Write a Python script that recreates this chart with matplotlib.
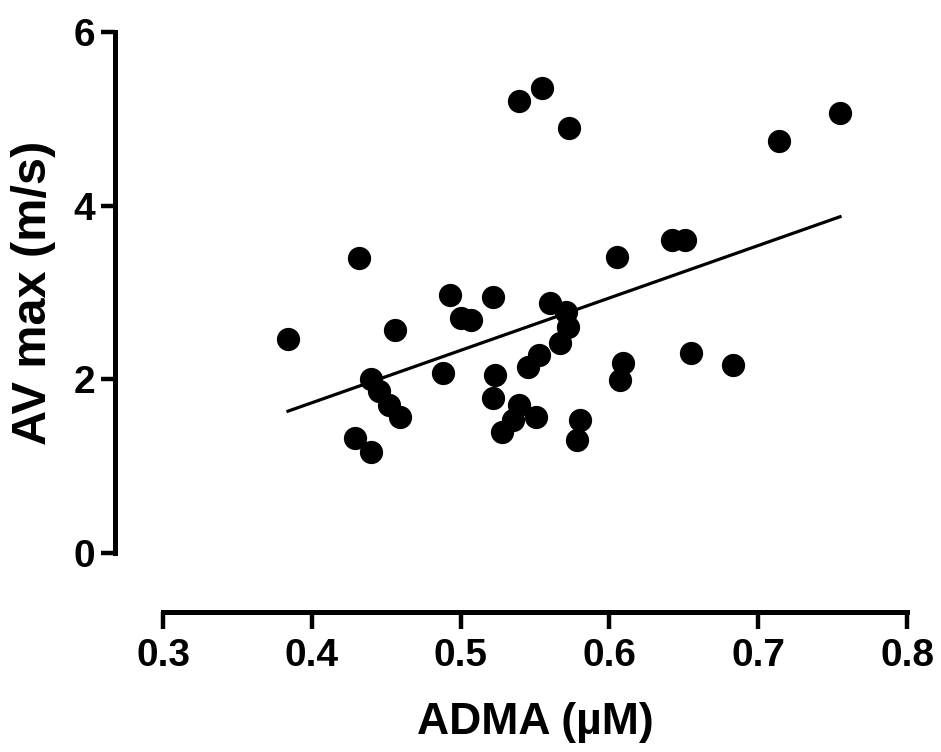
import matplotlib
matplotlib.use("Agg")
import matplotlib.pyplot as plt
import numpy as np

# ADMA (uM) vs AV max (m/s)
adma = [0.384, 0.432, 0.456, 0.429, 0.440,
        0.440, 0.445, 0.452, 0.459,
        0.488, 0.493, 0.500, 0.507,
        0.522, 0.523, 0.522,
        0.539, 0.535, 0.528, 0.551,
        0.539, 0.555, 0.573,
        0.560, 0.571, 0.572, 0.567, 0.553, 0.545,
        0.580, 0.578,
        0.605, 0.642, 0.651, 0.609, 0.607, 0.655,
        0.683, 0.714, 0.755]
av_max = [2.47, 3.40, 2.57, 1.32, 1.16,
          2.00, 1.86, 1.71, 1.57,
          2.07, 2.97, 2.71, 2.68,
          2.95, 2.05, 1.78,
          1.71, 1.53, 1.39, 1.57,
          5.21, 5.35, 4.90,
          2.88, 2.78, 2.60, 2.42, 2.28, 2.14,
          1.53, 1.30,
          3.41, 3.61, 3.61, 2.19, 1.99, 2.30,
          2.17, 4.75, 5.07]

x_ticks = [0.3, 0.4, 0.5, 0.6, 0.7, 0.8]
y_ticks = [0, 2, 4, 6]

plt.rcParams['font.family'] = ['Liberation Sans', 'DejaVu Sans']
plt.rcParams['font.weight'] = 'bold'

fig = plt.figure(figsize=(9.41, 7.52), dpi=100)
W, H = 941, 752
ax = fig.add_axes([163 / W, (H - 553) / H, (907 - 163) / W, (553 - 32) / H])

x = np.array(adma)
y = np.array(av_max)
ax.scatter(x, y, s=280, color='black', zorder=3, linewidths=0)

# linear regression line over the data range
slope, intercept = np.polyfit(x, y, 1)
xs = np.array([x.min(), x.max()])
ax.plot(xs, slope * xs + intercept, color='black', linewidth=2.3, zorder=2)

ax.set_xlim(0.3, 0.8)
ax.set_ylim(0, 6)
ax.set_xticks(x_ticks)
ax.set_yticks(y_ticks)
ax.set_xticklabels([f"{t:.1f}" for t in x_ticks])
ax.set_yticklabels([str(t) for t in y_ticks])

for s in ['top', 'right']:
    ax.spines[s].set_visible(False)
ax.spines['left'].set_position(('outward', 48 * 72 / 100))
ax.spines['bottom'].set_position(('outward', 59 * 72 / 100))
for s in ['left', 'bottom']:
    ax.spines[s].set_linewidth(3.6)
    ax.spines[s].set_capstyle('projecting')

ax.tick_params(axis='both', width=3.2, color='black', labelsize=28)
ax.tick_params(axis='y', length=10, pad=4)
ax.tick_params(axis='x', length=12, pad=7)

ax.set_xlabel("ADMA (µM)", fontsize=32, fontweight='bold', labelpad=20)
ax.set_ylabel("AV max (m/s)", fontsize=35, fontweight='bold', labelpad=13)

fig.savefig("out.png", dpi=100, facecolor='white')
